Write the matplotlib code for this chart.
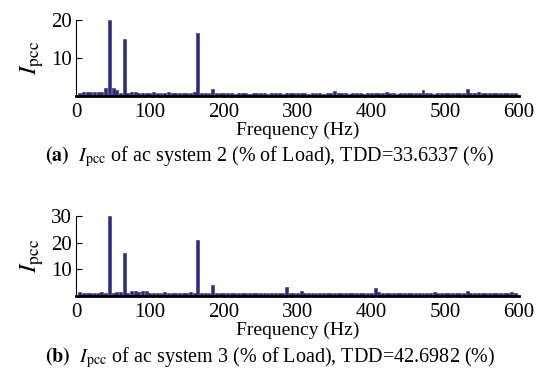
import numpy as np
import matplotlib
matplotlib.use("Agg")
import matplotlib.pyplot as plt

plt.rcParams['font.family'] = ['Liberation Serif', 'DejaVu Serif']
plt.rcParams['mathtext.fontset'] = 'stix'

# Frequency bins (Hz) and harmonic magnitudes (% of load)
freqs = np.arange(5, 600, 5)

ipcc_sys2 = [
    0.8, 1.1, 1.1, 1.1, 1.1, 1.1, 1.1, 2.2, 20.0, 2.2,
    1.6, 0.9, 15.0, 0.9, 1.1, 1.1, 0.9, 0.8, 0.8, 0.8,
    1.1, 0.8, 0.8, 0.8, 1.0, 0.8, 0.8, 0.8, 0.8, 0.8,
    0.8, 1.0, 16.5, 0.8, 0.8, 0.8, 1.8, 0.8, 0.8, 0.8,
    0.8, 0.8, 0.6, 0.8, 0.8, 0.8, 0.6, 0.8, 0.8, 0.8,
    0.8, 0.6, 0.8, 0.8, 0.8, 0.6, 0.8, 0.8, 0.8, 0.8,
    0.8, 0.8, 0.6, 0.8, 0.8, 0.8, 0.6, 0.8, 0.9, 1.3,
    0.8, 0.8, 0.8, 0.6, 0.8, 0.8, 0.8, 0.6, 0.8, 0.8,
    0.8, 0.8, 0.8, 1.1, 0.8, 0.8, 0.6, 0.8, 0.8, 0.8,
    0.8, 0.8, 0.8, 1.7, 0.8, 0.8, 0.6, 0.8, 0.8, 0.8,
    0.8, 0.8, 0.8, 0.8, 0.8, 2.0, 0.8, 0.8, 1.2, 0.8,
    0.8, 0.8, 0.8, 0.8, 0.8, 0.8, 0.8, 0.8, 0.8,
]

ipcc_sys3 = [
    1.4, 1.0, 1.0, 1.0, 1.0, 1.0, 1.4, 1.0, 30.0, 1.0,
    1.4, 1.5, 16.0, 1.3, 1.7, 1.7, 1.5, 1.7, 1.7, 1.3,
    1.0, 1.0, 1.0, 1.4, 1.0, 1.0, 1.0, 1.0, 1.0, 1.0,
    1.4, 1.0, 21.0, 1.3, 1.0, 1.0, 4.0, 1.0, 1.0, 1.0,
    1.0, 1.0, 1.0, 1.0, 1.0, 1.0, 1.0, 1.0, 1.0, 1.0,
    1.0, 1.0, 1.0, 1.0, 1.0, 1.0, 3.2, 1.0, 1.0, 1.0,
    2.0, 1.0, 1.0, 1.0, 1.0, 1.0, 1.3, 1.0, 1.0, 1.0,
    1.0, 1.0, 1.0, 1.0, 1.0, 1.0, 1.3, 1.0, 1.0, 1.0,
    3.0, 1.5, 1.3, 1.0, 1.0, 1.0, 1.0, 1.0, 1.0, 1.0,
    1.0, 1.0, 1.0, 1.0, 1.0, 1.0, 1.4, 1.0, 1.0, 1.0,
    1.0, 1.0, 1.0, 1.0, 1.0, 1.7, 1.0, 1.0, 1.0, 1.0,
    1.0, 1.0, 1.0, 1.0, 1.0, 1.0, 1.0, 1.4, 1.0,
]

captions = [
    r"$\mathbf{(a)}$  $I_{\rm pcc}$ of ac system 2 (% of Load), TDD=33.6337 (%)",
    r"$\mathbf{(b)}$  $I_{\rm pcc}$ of ac system 3 (% of Load), TDD=42.6982 (%)",
]

bar_color = "#2c2c7c"

fig = plt.figure(figsize=(5.4, 3.8), dpi=100)

# axes rectangles: [left, bottom, width, height]
ax_a = fig.add_axes([0.141, 0.747, 0.820, 0.200])
ax_b = fig.add_axes([0.141, 0.221, 0.820, 0.211])

panels = [(ax_a, ipcc_sys2, 20, [10, 20]), (ax_b, ipcc_sys3, 30, [10, 20, 30])]

for ax, vals, ymax, yt in panels:
    ax.bar(freqs, vals, width=4.0, color=bar_color, edgecolor=bar_color, linewidth=0.4)
    ax.set_xlim(0, 600)
    ax.set_ylim(0, ymax)
    ax.set_xticks([0, 100, 200, 300, 400, 500, 600])
    ax.set_yticks(yt)
    ax.tick_params(axis='x', length=0, labelsize=15, pad=5)
    ax.tick_params(axis='y', direction='in', length=4, labelsize=15, pad=3)
    ax.spines['top'].set_visible(False)
    ax.spines['right'].set_visible(False)
    ax.spines['bottom'].set_linewidth(2.0)
    ax.spines['left'].set_linewidth(0.8)
    ax.set_xlabel("Frequency (Hz)", fontsize=14, labelpad=0)
    ax.set_ylabel(r"$I_{\rm pcc}$", fontsize=18, labelpad=4)

fig.text(0.5, 0.588, captions[0], ha='center', va='center', fontsize=14.5)
fig.text(0.5, 0.060, captions[1], ha='center', va='center', fontsize=14.5)

fig.savefig("out.png", dpi=100)
